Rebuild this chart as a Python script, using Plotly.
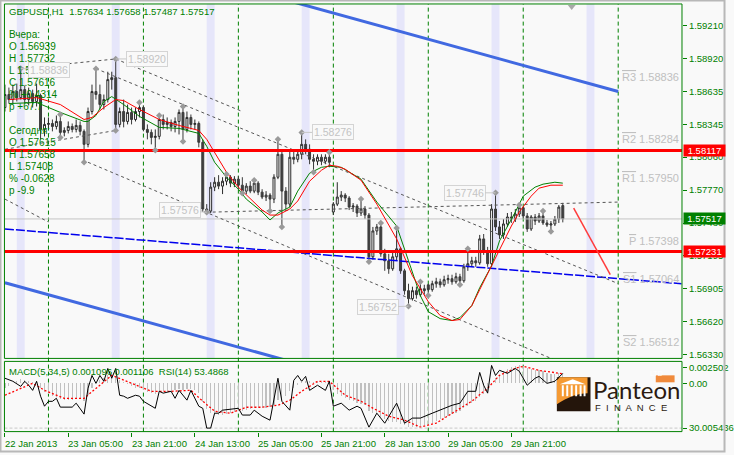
import plotly.graph_objects as go

W, H = 734, 455
def px(x): return x / W
def py(y): return 1 - y / H

# ---------------- data ----------------
bars = list(range(142))
opens = [1.58494, 1.58608, 1.58564, 1.58634, 1.58581, 1.58651, 1.58564, 1.58616, 1.58547, 1.58599,
         1.58302, 1.58346, 1.58354, 1.58328, 1.58372, 1.58276, 1.58293, 1.58328, 1.58302, 1.58337,
         1.58285, 1.58171, 1.58459, 1.58634, 1.58608, 1.58520, 1.58564, 1.58739, 1.58756, 1.58346,
         1.58459, 1.58372, 1.58451, 1.58389, 1.58459, 1.58494, 1.58302, 1.58276, 1.58232, 1.58241,
         1.58389, 1.58346, 1.58363, 1.58328, 1.58372, 1.58451, 1.58302, 1.58407, 1.58346, 1.58354,
         1.58189, 1.57604, 1.57586, 1.57796, 1.57839, 1.57805, 1.57848, 1.57883, 1.57831, 1.57866,
         1.57813, 1.57761, 1.57805, 1.57761, 1.57831, 1.57752, 1.57709, 1.57726, 1.57691, 1.57883,
         1.58084, 1.57761, 1.57647, 1.58058, 1.58040, 1.58084, 1.58171, 1.58128, 1.58040, 1.58023,
         1.58058, 1.58023, 1.58058, 1.57578, 1.57647, 1.57709, 1.57726, 1.57700, 1.57621, 1.57630,
         1.57569, 1.57604, 1.57551, 1.57185, 1.57412, 1.57447, 1.57211, 1.57150, 1.57080, 1.57185,
         1.57255, 1.57062, 1.56888, 1.56818, 1.56888, 1.56853, 1.56905, 1.56939, 1.56897, 1.56949,
         1.56966, 1.56940, 1.56984, 1.56993, 1.56966, 1.57010, 1.56975, 1.57097, 1.57124, 1.57150,
         1.57132, 1.57342, 1.57237, 1.57124, 1.57604, 1.57447, 1.57377, 1.57473, 1.57534, 1.57516,
         1.57560, 1.57615, 1.57543, 1.57429, 1.57534, 1.57499, 1.57543, 1.57482, 1.57464, 1.57473,
         1.57516, 1.57634]
highs = [1.58695, 1.58669, 1.58695, 1.58704, 1.58836, 1.58686, 1.58669, 1.58651, 1.58704, 1.58616,
         1.58407, 1.58407, 1.58389, 1.58424, 1.58433, 1.58320, 1.58372, 1.58354, 1.58389, 1.58372,
         1.58302, 1.58494, 1.58695, 1.58835, 1.58695, 1.58608, 1.58808, 1.58808, 1.58920, 1.58494,
         1.58564, 1.58520, 1.58494, 1.58494, 1.58538, 1.58512, 1.58346, 1.58302, 1.58302, 1.58424,
         1.58433, 1.58407, 1.58389, 1.58407, 1.58477, 1.58503, 1.58459, 1.58433, 1.58389, 1.58372,
         1.58215, 1.57647, 1.57839, 1.57883, 1.57901, 1.57883, 1.57909, 1.57901, 1.57892, 1.57892,
         1.57883, 1.57831, 1.57848, 1.57857, 1.57848, 1.57778, 1.57761, 1.57743, 1.57909, 1.58215,
         1.58110, 1.57796, 1.58110, 1.58128, 1.58128, 1.58276, 1.58215, 1.58171, 1.58084, 1.58084,
         1.58084, 1.58084, 1.58101, 1.57665, 1.57839, 1.57761, 1.57743, 1.57717, 1.57656, 1.57647,
         1.57691, 1.57630, 1.57569, 1.57447, 1.57473, 1.57482, 1.57255, 1.57211, 1.57237, 1.57438,
         1.57272, 1.57080, 1.56949, 1.56923, 1.56923, 1.56966, 1.56940, 1.56949, 1.56975, 1.57001,
         1.56993, 1.57019, 1.57028, 1.57028, 1.57045, 1.57036, 1.57124, 1.57255, 1.57185, 1.57185,
         1.57377, 1.57385, 1.57272, 1.57647, 1.57746, 1.57499, 1.57516, 1.57569, 1.57578, 1.57604,
         1.57639, 1.57621, 1.57569, 1.57551, 1.57560, 1.57569, 1.57586, 1.57508, 1.57499, 1.57543,
         1.57639, 1.57658]
lows = [1.58459, 1.58529, 1.58529, 1.58547, 1.58564, 1.58529, 1.58512, 1.58494, 1.58503, 1.58215,
        1.58241, 1.58302, 1.58285, 1.58302, 1.58232, 1.58241, 1.58267, 1.58276, 1.58276, 1.58250,
        1.58014, 1.58145, 1.58433, 1.58564, 1.58477, 1.58477, 1.58538, 1.58651, 1.58293, 1.58320,
        1.58320, 1.58346, 1.58346, 1.58372, 1.58407, 1.58285, 1.58215, 1.58171, 1.58119, 1.58215,
        1.58302, 1.58302, 1.58285, 1.58276, 1.58258, 1.58197, 1.58276, 1.58302, 1.58302, 1.58145,
        1.57578, 1.57576, 1.57569, 1.57761, 1.57778, 1.57735, 1.57813, 1.57796, 1.57796, 1.57778,
        1.57743, 1.57735, 1.57743, 1.57743, 1.57726, 1.57691, 1.57674, 1.57586, 1.57656, 1.57866,
        1.57447, 1.57604, 1.57621, 1.57997, 1.58014, 1.58040, 1.58084, 1.57997, 1.57927, 1.57988,
        1.57988, 1.57997, 1.57970, 1.57551, 1.57630, 1.57674, 1.57665, 1.57595, 1.57578, 1.57534,
        1.57543, 1.57516, 1.57141, 1.57159, 1.57377, 1.57185, 1.57062, 1.57036, 1.57062, 1.57150,
        1.57036, 1.56853, 1.56752, 1.56801, 1.56818, 1.56836, 1.56853, 1.56846, 1.56879, 1.56914,
        1.56914, 1.56923, 1.56949, 1.56940, 1.56949, 1.56940, 1.56958, 1.57062, 1.57097, 1.57097,
        1.57115, 1.57202, 1.57097, 1.57097, 1.57412, 1.57342, 1.57342, 1.57447, 1.57482, 1.57490,
        1.57534, 1.57516, 1.57403, 1.57412, 1.57464, 1.57482, 1.57464, 1.57447, 1.57408, 1.57455,
        1.57482, 1.57487]
closes = [1.58608, 1.58564, 1.58634, 1.58581, 1.58651, 1.58564, 1.58616, 1.58547, 1.58599, 1.58302,
          1.58346, 1.58354, 1.58328, 1.58372, 1.58276, 1.58293, 1.58328, 1.58302, 1.58337, 1.58285,
          1.58171, 1.58459, 1.58634, 1.58608, 1.58520, 1.58564, 1.58739, 1.58756, 1.58346, 1.58459,
          1.58372, 1.58451, 1.58389, 1.58459, 1.58494, 1.58302, 1.58276, 1.58232, 1.58241, 1.58389,
          1.58346, 1.58363, 1.58328, 1.58372, 1.58451, 1.58302, 1.58407, 1.58346, 1.58354, 1.58189,
          1.57604, 1.57586, 1.57796, 1.57839, 1.57805, 1.57848, 1.57883, 1.57831, 1.57866, 1.57813,
          1.57761, 1.57805, 1.57761, 1.57831, 1.57752, 1.57709, 1.57726, 1.57691, 1.57883, 1.58084,
          1.57761, 1.57647, 1.58058, 1.58040, 1.58084, 1.58171, 1.58128, 1.58040, 1.58023, 1.58058,
          1.58023, 1.58058, 1.58014, 1.57647, 1.57709, 1.57726, 1.57700, 1.57621, 1.57630, 1.57569,
          1.57604, 1.57551, 1.57185, 1.57412, 1.57447, 1.57211, 1.57150, 1.57080, 1.57185, 1.57255,
          1.57062, 1.56888, 1.56818, 1.56888, 1.56853, 1.56905, 1.56888, 1.56897, 1.56949, 1.56966,
          1.56940, 1.56984, 1.56993, 1.56966, 1.57010, 1.56975, 1.57097, 1.57124, 1.57150, 1.57132,
          1.57342, 1.57237, 1.57124, 1.57604, 1.57447, 1.57377, 1.57473, 1.57534, 1.57516, 1.57560,
          1.57616, 1.57543, 1.57429, 1.57534, 1.57499, 1.57543, 1.57482, 1.57464, 1.57473, 1.57516,
          1.57621, 1.57517]

# moving-average style lines (read at sample bars)
red_idx = [1, 8, 14, 20, 22, 25, 28, 30, 34, 39, 44, 49, 51, 53, 56, 59, 61, 65, 67, 69,
           72, 74, 77, 80, 82, 84, 86, 90, 94, 99, 103, 107, 110, 113, 115, 118, 120, 123, 125, 128,
           130, 133, 135, 138, 141]
red_val = [1.58564, 1.58581, 1.58520, 1.58389, 1.58407, 1.58494, 1.58564, 1.58555, 1.58477, 1.58389,
           1.58337, 1.58293, 1.58215, 1.58101, 1.57927, 1.57796, 1.57726, 1.57595, 1.57551, 1.57551,
           1.57604, 1.57674, 1.57848, 1.57944, 1.57988, 1.57979, 1.57953, 1.57857, 1.57647, 1.57342,
           1.57019, 1.56792, 1.56670, 1.56626, 1.56635, 1.56757, 1.56897, 1.57106, 1.57246, 1.57455,
           1.57578, 1.57717, 1.57787, 1.57813, 1.57813]
green_idx = [1, 8, 14, 20, 21, 23, 25, 27, 30, 34, 39, 44, 49, 51, 53, 56, 59, 61, 65, 67,
             69, 72, 74, 77, 80, 82, 85, 90, 94, 99, 102, 105, 107, 110, 113, 115, 118, 120, 123, 125,
             129, 131, 134, 136, 139, 141]
green_val = [1.58529, 1.58538, 1.58451, 1.58372, 1.58372, 1.58424, 1.58547, 1.58590, 1.58520, 1.58416,
             1.58320, 1.58311, 1.58267, 1.58154, 1.58014, 1.57883, 1.57778, 1.57691, 1.57578, 1.57508,
             1.57569, 1.57621, 1.57761, 1.57918, 1.57970, 1.57979, 1.57970, 1.57866, 1.57665, 1.57455,
             1.57150, 1.56844, 1.56704, 1.56643, 1.56626, 1.56652, 1.56757, 1.56914, 1.57106, 1.57324,
             1.57578, 1.57717, 1.57796, 1.57822, 1.57839, 1.57831]

macd_hist = [-0.0006, -0.0003, 0.0000, 0.0003, 0.0005, 0.0004, 0.0003, 0.0002, 0.0002, -0.0006,
             -0.0010, -0.0013, -0.0015, -0.0016, -0.0018, -0.0019, -0.0019, -0.0019, -0.0018, -0.0018,
             -0.0020, -0.0014, -0.0006, 0.0000, 0.0004, 0.0006, 0.0010, 0.0013, 0.0008, 0.0004,
             0.0002, -0.0001, -0.0003, -0.0005, -0.0006, -0.0008, -0.0010, -0.0011, -0.0012, -0.0010,
             -0.0009, -0.0009, -0.0009, -0.0008, -0.0007, -0.0008, -0.0007, -0.0007, -0.0008, -0.0011,
             -0.0022, -0.0030, -0.0034, -0.0036, -0.0037, -0.0037, -0.0036, -0.0035, -0.0033, -0.0032,
             -0.0032, -0.0031, -0.0030, -0.0029, -0.0029, -0.0029, -0.0029, -0.0028, -0.0025, -0.0019,
             -0.0017, -0.0015, -0.0009, -0.0005, -0.0002, 0.0002, 0.0003, 0.0003, 0.0002, 0.0002,
             0.0002, 0.0002, 0.0001, -0.0008, -0.0012, -0.0015, -0.0017, -0.0019, -0.0021, -0.0023,
             -0.0024, -0.0025, -0.0032, -0.0035, -0.0036, -0.0039, -0.0042, -0.0044, -0.0045, -0.0045,
             -0.0047, -0.0049, -0.0051, -0.0051, -0.0051, -0.0050, -0.0049, -0.0048, -0.0046, -0.0044,
             -0.0042, -0.0040, -0.0038, -0.0036, -0.0034, -0.0032, -0.0029, -0.0026, -0.0023, -0.0021,
             -0.0016, -0.0013, -0.0010, -0.0001, 0.0006, 0.0010, 0.0014, 0.0017, 0.0019, 0.0020,
             0.0021, 0.0020, 0.0018, 0.0017, 0.0016, 0.0015, 0.0014, 0.0012, 0.0011, 0.0011,
             0.0012, 0.0011]
sig_idx = [0, 7, 10, 15, 20, 24, 27, 32, 37, 42, 47, 50, 53, 57, 61, 65, 69, 72, 75, 79,
           82, 86, 90, 93, 97, 101, 105, 109, 114, 118, 122, 125, 129, 131, 135, 141]
sig_val = [-0.00139, 0.0, -0.00081, -0.00174, -0.00174, -0.00023, 0.00093, 0.0, -0.00093, -0.00093,
           -0.00081, -0.00208, -0.00324, -0.00347, -0.00278, -0.00278, -0.00255, -0.00197, -0.00093, 0.00023,
           0.00023, -0.00139, -0.00208, -0.00289, -0.00382, -0.00428, -0.00509, -0.00463, -0.00324, -0.00208,
           -0.00058, 0.00093, 0.00174, 0.00197, 0.00150, 0.00111]
rsi_idx = [0, 2, 4, 5, 6, 7, 8, 9, 10, 11, 12, 13, 14, 16, 17, 18, 20, 21, 22, 23,
           24, 25, 26, 27, 28, 29, 30, 31, 33, 34, 35, 38, 39, 40, 42, 43, 44, 46, 47, 49,
           50, 51, 52, 53, 54, 55, 57, 59, 60, 62, 63, 65, 67, 68, 69, 70, 72, 73, 74, 75,
           76, 77, 79, 81, 82, 83, 85, 87, 89, 90, 92, 94, 96, 99, 101, 103, 105, 108, 110, 113,
           115, 117, 119, 120, 121, 122, 123, 124, 125, 127, 129, 130, 132, 134, 135, 137, 139, 141]
rsi_val = [51.4, 50.1, 47.9, 50.1, 48.4, 46.2, 50.1, 43.7, 39.4, 41.5, 41.5, 42.8, 39.0, 39.0, 39.0, 40.7, 36.0, 47.1, 52.6, 49.2,
           52.6, 50.1, 55.6, 51.4, 55.6, 44.1, 43.7, 42.8, 44.1, 43.7, 41.5, 38.5, 45.8, 45.0, 45.8, 42.8, 46.2, 42.0, 46.2, 39.4,
           38.5, 30.0, 30.0, 36.4, 36.4, 37.7, 38.1, 38.5, 35.6, 35.6, 37.7, 35.1, 33.4, 42.8, 51.4, 41.5, 37.7, 50.5, 52.6, 50.1,
           52.2, 46.2, 48.4, 46.2, 50.1, 39.4, 40.7, 37.7, 39.4, 38.5, 30.4, 36.4, 32.1, 40.7, 32.1, 34.3, 34.3, 36.4, 37.7, 39.8,
           40.7, 45.8, 45.8, 53.9, 48.4, 45.0, 56.9, 52.6, 54.8, 53.5, 55.6, 54.4, 48.4, 51.4, 52.2, 49.2, 50.1, 53.5]

fractal_high_bars = [4, 14, 23, 28, 34, 39, 45, 56, 63, 69, 75, 82, 90, 95, 99, 105, 117, 124, 130, 136]
fractal_low_bars = [14, 20, 28, 38, 45, 51, 60, 67, 70, 78, 92, 102, 107, 115, 138]

sr_levels = [1.58117, 1.57231]
pivot_names = ["R3", "R2", "R1", "P", "S1", "S2"]
pivot_values = [1.58836, 1.58284, 1.57950, 1.57398, 1.57064, 1.56512]

gray_trendlines = [(4, 1.58836, 28, 1.58920), (0, 1.58128, 28, 1.58293), (28, 1.58920, 60, 1.58459),
                   (23, 1.58835, 155, 1.56950), (0, 1.57691, 11, 1.57490), (21, 1.58014, 145, 1.56192),
                   (51, 1.57576, 155, 1.57665)]
blue_channel = [(70, 1.59447, 155, 1.58634), (0, 1.56958, 75, 1.56240)]
blue_dashed = (0, 1.57429, 171, 1.56949)
forecast = (143.75, 1.57612, 153, 1.57028)

day_start_bars = [11, 35, 59, 83, 107, 131, 155]
session_bars = [3, 27, 51, 75, 99, 123, 147]
xtick_bars = [0, 16, 32, 48, 64, 80, 96, 112, 128]
xtick_text = ["22 Jan 2013", "23 Jan 05:00", "23 Jan 21:00", "24 Jan 13:00", "25 Jan 05:00",
              "25 Jan 21:00", "28 Jan 13:00", "29 Jan 05:00", "29 Jan 21:00"]
ytick_vals = [1.59210, 1.58920, 1.58635, 1.58345, 1.58060, 1.57770, 1.57480, 1.57195, 1.56905, 1.56620, 1.56330]

header = "GBPUSD,H1  1.57634 1.57658 1.57487 1.57517"
info_lines = ["Вчера:", "O 1.56939", "H 1.57732", "L 1.56846", "C 1.57616", "% +0.4314", "p +67.7", "",
              "Сегодня:", "O 1.57615", "H 1.57658", "L 1.57408", "% -0.0628", "p -9.9"]
sub_title = "MACD(5,34,5) 0.001096 0.001106  RSI(14) 53.4868"

# ---------------- styling ----------------
GREEN = "#008000"
FONT = "Liberation Sans"
XR = [-0.125, 171.125]
YR = [1.56294, 1.59402]
MACD_R = [-0.005611, 0.002545]
RSI_R = [28.50, 58.63]

fig = go.Figure()

def seg(x0, y0, x1, y1, color, width, dash="solid", xa="x", ya="y"):
    fig.add_trace(go.Scatter(x=[x0, x1], y=[y0, y1], mode="lines", xaxis=xa, yaxis=ya,
                             line=dict(color=color, width=width, dash=dash), hoverinfo="skip"))

seg(XR[0], closes[-1], XR[1], closes[-1], "#c4c4c4", 1)
seg(*blue_dashed, "#0000ee", 1.5, "9px,2px")
for t in gray_trendlines:
    seg(*t, "#555555", 1, "3px,3px")

fig.add_trace(go.Candlestick(
    x=bars, open=opens, high=highs, low=lows, close=closes,
    increasing=dict(line=dict(color="#2a2a2a", width=1), fillcolor="#ffffff"),
    decreasing=dict(line=dict(color="#3a3a3a", width=1), fillcolor="#404040"),
    whiskerwidth=0, hoverinfo="skip"))

fig.add_trace(go.Scatter(x=green_idx, y=green_val, mode="lines", line=dict(color="#008000", width=1), hoverinfo="skip"))
fig.add_trace(go.Scatter(x=red_idx, y=red_val, mode="lines", line=dict(color="#ff0000", width=1), hoverinfo="skip"))

for t in blue_channel:
    seg(*t, "#4169e1", 3)
for lv in sr_levels:
    seg(XR[0], lv, XR[1], lv, "#ff0000", 3)
seg(*forecast, "#ff3c3c", 1.5)

fig.add_trace(go.Scatter(x=fractal_high_bars, y=[highs[i] for i in fractal_high_bars], mode="markers",
                         marker=dict(symbol="diamond", size=5, color="#9a9a9a"), hoverinfo="skip"))
fig.add_trace(go.Scatter(x=fractal_low_bars, y=[lows[i] for i in fractal_low_bars], mode="markers",
                         marker=dict(symbol="diamond", size=5, color="#9a9a9a"), hoverinfo="skip"))

fig.add_trace(go.Bar(x=bars, y=macd_hist, xaxis="x2", yaxis="y3", width=0.3,
                     marker=dict(color="#c0c0c0", line=dict(width=0)), hoverinfo="skip"))
fig.add_trace(go.Scatter(x=sig_idx, y=sig_val, xaxis="x2", yaxis="y3", mode="lines",
                         line=dict(color="#ff0000", width=1.3, dash="2px,2px"), hoverinfo="skip"))
seg(XR[0], 30, XR[1], 30, "#c8c8c8", 1, "3px,2px", "x2", "y4")
fig.add_trace(go.Scatter(x=rsi_idx, y=rsi_val, xaxis="x2", yaxis="y4", mode="lines",
                         line=dict(color="#000000", width=1), hoverinfo="skip"))

shapes = []
for b in session_bars:
    shapes.append(dict(type="rect", xref="x", yref="paper", x0=b, x1=b + 2, y0=py(360), y1=py(4),
                       fillcolor="#e6e6fa", line=dict(width=0), layer="below"))
for b in day_start_bars:
    shapes.append(dict(type="line", xref="x", yref="paper", x0=b, x1=b, y0=py(433.5), y1=py(4),
                       line=dict(color=GREEN, width=1, dash="4px,3px"), layer="below"))
shapes.append(dict(type="rect", xref="paper", yref="paper", x0=px(4.5), x1=px(689.5), y0=py(360), y1=py(4),
                   line=dict(color=GREEN, width=1), layer="above"))
shapes.append(dict(type="rect", xref="paper", yref="paper", x0=px(4.5), x1=px(689.5), y0=py(433.5), y1=py(363),
                   line=dict(color=GREEN, width=1), layer="above"))
shapes.append(dict(type="rect", xref="paper", yref="paper", x0=px(0.5), x1=px(732.5), y0=py(453.5), y1=py(0.5),
                   line=dict(color="#b8b8b8", width=2), layer="above"))
shapes.append(dict(type="path", xref="paper", yref="paper",
                   path=f"M {px(574)},{py(5)} L {px(582)},{py(5)} L {px(578)},{py(10)} Z",
                   fillcolor="#a8a8a8", line=dict(width=0)))

def path(pts):
    return "M " + " L ".join(f"{px(x)},{py(y)}" for x, y in pts) + " Z"

# logo
shapes.append(dict(type="rect", xref="paper", yref="paper", x0=px(563), x1=px(597), y0=py(413), y1=py(379),
                   fillcolor="#24150b", line=dict(width=0)))
shapes.append(dict(type="path", xref="paper", yref="paper",
                   path=(f"M {px(563)},{py(382)} L {px(566)},{py(379)} L {px(594)},{py(379)} L {px(594)},{py(395)} "
                         f"C {px(584)},{py(395)} {px(574)},{py(399)} {px(563)},{py(406)} Z"),
                   fillcolor="#f59a33", line=dict(width=0)))
shapes.append(dict(type="path", xref="paper", yref="paper",
                   path=path([(566, 386), (579, 381), (592, 386)]), fillcolor="#ffffff", line=dict(width=0)))
for cx in [568, 572.5, 577, 581.5, 586, 590]:
    shapes.append(dict(type="rect", xref="paper", yref="paper", x0=px(cx), x1=px(cx + 2), y0=py(398), y1=py(387),
                       fillcolor="#ffffff", line=dict(width=0)))
shapes.append(dict(type="rect", xref="paper", yref="paper", x0=px(663), x1=px(682), y0=py(384), y1=py(377),
                   fillcolor="#f08a3c", line=dict(width=0), layer="above"))

ann = []
def txt(x, y, s, size=9.5, color=GREEN, xanchor="left", family=FONT, **kw):
    ann.append(dict(x=px(x), y=py(y), xref="paper", yref="paper", text=s, showarrow=False,
                    xanchor=xanchor, yanchor="middle", font=dict(family=family, size=size, color=color), **kw))

txt(7, 12, header)
for k, s in enumerate(info_lines):
    if s:
        txt(7, 35 + 12 * k, s, size=10)
txt(7, 373, sub_title)
for b, s in zip(xtick_bars, xtick_text):
    ann.append(dict(x=b, y=py(445), xref="x2", yref="paper", text=s, showarrow=False, xanchor="left",
                    yanchor="middle", xshift=-2, font=dict(family=FONT, size=9.5, color=GREEN)))
for n, v in zip(pivot_names, pivot_values):
    ann.append(dict(x=px(689), y=v, xref="paper", yref="y", xanchor="right", yanchor="top", showarrow=False,
                    text=f'<span style="text-decoration:overline">{n}</span> {v:.5f}',
                    font=dict(family=FONT, size=11, color="#c0c0c0")))
frac_labels = [(4, highs[4], 28, 1), (28, highs[28], 31, 0), (75, highs[75], 31, 0),
               (51, lows[51], -27, -2), (102, lows[102], -31, 1), (124, highs[124], -31, 0)]
for b, v, ax, ay in frac_labels:
    ann.append(dict(x=b, y=v, xref="x", yref="y", text=f"{v:.5f}", showarrow=True, arrowhead=0,
                    arrowwidth=1, arrowcolor="#c8c8c8", ax=ax, ay=ay, bgcolor="#f9f9f9",
                    bordercolor="#d4d4d4", borderwidth=1, borderpad=1,
                    font=dict(family=FONT, size=10.5, color="#c4c4c4")))
for v, bg in [(sr_levels[0], "#ff0000"), (closes[-1], "#008000"), (sr_levels[1], "#ff0000")]:
    ann.append(dict(x=px(691), y=v, xref="paper", yref="y", xanchor="left", yanchor="middle", showarrow=False,
                    text=f"{v:.5f}", bgcolor=bg, width=41, height=11, borderpad=0,
                    font=dict(family=FONT, size=9.5, color="#ffffff")))
txt(598, 391, "Panteon", size=24, color="#2b1a10", family="Lato")
txt(600, 409, "F  I  N  A  N  C  E", size=9.5, color="#2b1a10")
ann.append(dict(x=px(672.5), y=py(380.5), xref="paper", yref="paper", text="LTD", showarrow=False,
                font=dict(family=FONT, size=7, color="#ffffff")))

fig.update_layout(
    width=W, height=H, autosize=False, margin=dict(l=0, r=0, t=0, b=0),
    paper_bgcolor="#f9f9f9", plot_bgcolor="#f9f9f9", showlegend=False, hovermode=False,
    font=dict(family=FONT, size=9.5, color=GREEN), bargap=0,
    xaxis=dict(domain=[px(4.5), px(689.5)], range=XR, anchor="y", showgrid=False, zeroline=False,
               showticklabels=False, ticks="", rangeslider=dict(visible=False)),
    yaxis=dict(domain=[py(360), py(4)], range=YR, anchor="x", side="right", showgrid=False, zeroline=False,
               tickmode="array", tickvals=ytick_vals, ticktext=[f"{v:.5f}" for v in ytick_vals],
               ticks="outside", ticklen=4, tickcolor=GREEN, tickfont=dict(color=GREEN, size=9.5)),
    xaxis2=dict(domain=[px(4.5), px(689.5)], range=XR, anchor="y3", showgrid=False, zeroline=False,
                showticklabels=False, ticks="outside", ticklen=4, tickcolor=GREEN, tickmode="array",
                tickvals=xtick_bars),
    yaxis3=dict(domain=[py(433.5), py(363)], range=MACD_R, anchor="x2", side="right", showgrid=False,
                zeroline=False, tickmode="array", tickvals=[0.001851, 0.0, -0.005206],
                ticktext=["0.002502", "0.00", "30.005436"], ticks="outside", ticklen=4, tickcolor=GREEN,
                tickfont=dict(color=GREEN, size=9.5)),
    yaxis4=dict(domain=[py(433.5), py(363)], range=RSI_R, overlaying="y3", anchor="x2", side="right",
                showgrid=False, zeroline=False, showticklabels=False, ticks=""),
    shapes=shapes, annotations=ann,
)

fig.write_html("out.html", config={"displayModeBar": False, "staticPlot": True},
               post_script="document.body.style.margin='0px';document.body.style.overflow='hidden';")
